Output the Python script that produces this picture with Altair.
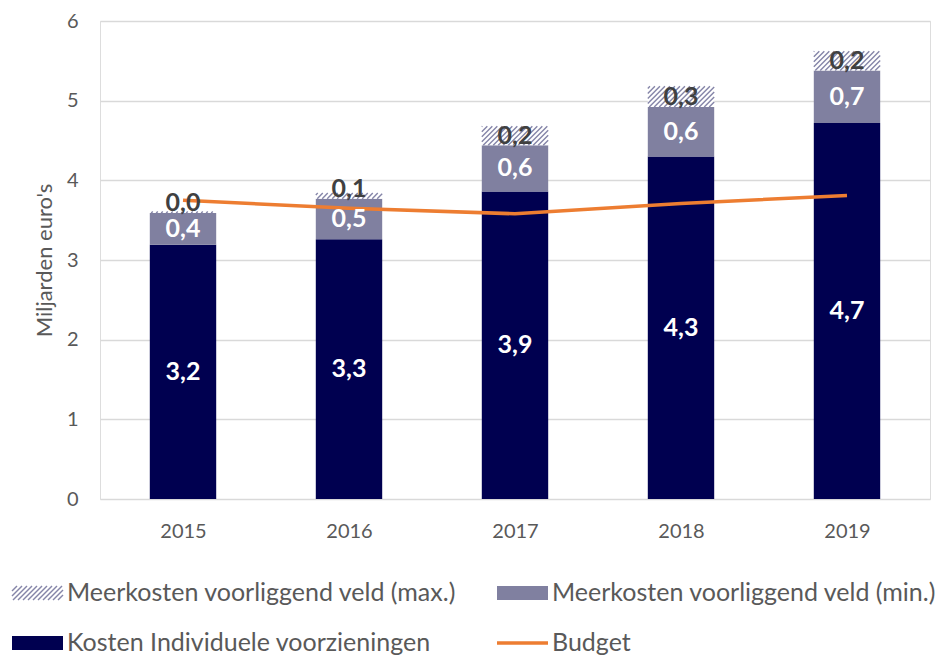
import altair as alt
import pandas as pd

# ---- data ----
years = [2015, 2016, 2017, 2018, 2019]
kosten = [3.19, 3.26, 3.86, 4.30, 4.72]      # Kosten Individuele voorzieningen
meer_min = [0.40, 0.51, 0.58, 0.62, 0.66]    # Meerkosten voorliggend veld (min.)
meer_max = [0.02, 0.07, 0.24, 0.26, 0.24]    # Meerkosten voorliggend veld (max.)
budget = [3.75, 3.65, 3.58, 3.71, 3.81]      # Budget

S_K = "Kosten Individuele voorzieningen"
S_MIN = "Meerkosten voorliggend veld (min.)"
S_MAX = "Meerkosten voorliggend veld (max.)"
S_B = "Budget"

NAVY = "#000050"
GREY = "#8080A0"
HATCH = "#8585A8"
ORANGE = "#ED7D31"
FONT = "Lato"

W, H = 830, 478
YMAX = 6
HALF = 0.2  # half bar width in years
KX = W / 5.0
KY = H / YMAX


def fmt(v):
    return f"{v:.1f}".replace(".", ",")


rows = []
for i, yr in enumerate(years):
    lo = 0.0
    for s, v in ((S_K, kosten[i]), (S_MIN, meer_min[i]), (S_MAX, meer_max[i])):
        hi = lo + v
        mid = (lo + hi) / 2
        ly = mid if s != S_MAX else max(mid, lo + 0.12)
        rows.append(dict(year=yr, series=s, lo=lo, hi=hi, label=fmt(v), ly=ly,
                         x0=yr - HALF, x1=yr + HALF))
        lo = hi
seg = pd.DataFrame(rows)

# hatch stripes inside the "max" segments, computed from the segments
hrows = []
SP = 5.0
for _, r in seg[seg.series == S_MAX].iterrows():
    wpx = (r.x1 - r.x0) * KX
    hpx = (r.hi - r.lo) * KY
    d = -wpx
    while d < hpx:
        xs = max(0.0, -d)
        xe = min(wpx, hpx - d)
        if xe > xs:
            hrows.append(dict(xa=r.x0 + xs / KX, ya=r.lo + (xs + d) / KY,
                              xb=r.x0 + xe / KX, yb=r.lo + (xe + d) / KY))
        d += SP
hatch = pd.DataFrame(hrows)

bud = pd.DataFrame({"year": years, "budget": budget})

xs_ = alt.Scale(domain=[2014.5, 2019.5], nice=False, zero=False)
ys_ = alt.Scale(domain=[0, YMAX], nice=False)

xaxis = alt.Axis(values=years, format="d", grid=False, domain=False, ticks=False,
                 labelFontSize=20, labelColor="#595959", labelPadding=22,
                 labelFont=FONT, title=None)
yaxis = alt.Axis(values=[0, 1, 2, 3, 4, 5, 6], format="d", domain=False, ticks=False,
                 labelFontSize=20, labelColor="#595959", labelPadding=22,
                 labelFont=FONT, title="Miljarden euro's", titleFontSize=22,
                 titleColor="#595959", titleFont=FONT, titleFontWeight="normal",
                 titlePadding=10, gridColor="#D9D9D9", gridWidth=1.3)

solid = alt.Chart(seg).transform_filter(alt.datum.series != S_MAX).mark_rect().encode(
    x=alt.X("x0:Q", scale=xs_, axis=xaxis),
    x2="x1:Q",
    y=alt.Y("lo:Q", scale=ys_, axis=yaxis),
    y2="hi:Q",
    fill=alt.Fill("series:N", scale=alt.Scale(domain=[S_K, S_MIN], range=[NAVY, GREY]),
                  legend=None),
)

maxbg = alt.Chart(seg).transform_filter(alt.datum.series == S_MAX).mark_rect(
    fill="white").encode(x="x0:Q", x2="x1:Q", y="lo:Q", y2="hi:Q")

stripes = alt.Chart(hatch).mark_rule(color=HATCH, strokeWidth=1.4).encode(
    x="xa:Q", y="ya:Q", x2="xb:Q", y2="yb:Q")

line = alt.Chart(bud).mark_line(color=ORANGE, strokeWidth=3.5).encode(
    x="year:Q", y="budget:Q")

labels_in = alt.Chart(seg).transform_filter(alt.datum.series != S_MAX).mark_text(
    font=FONT, fontSize=25, fontWeight="bold", color="white", baseline="middle"
).encode(x="year:Q", y="ly:Q", text="label:N")

labels_top = alt.Chart(seg).transform_filter(alt.datum.series == S_MAX).mark_text(
    font=FONT, fontSize=25, fontWeight="bold", color="#404040", baseline="middle"
).encode(x="year:Q", y="ly:Q", text="label:N")

# ---- manual legend (2 x 2 grid below the plot) ----
leg = pd.DataFrame({
    "name": [S_MAX, S_MIN, S_K, S_B],
    "col": [0, 1, 0, 1],
    "row": [0, 0, 1, 1],
})
leg["sx0"] = -88 + leg["col"] * 485
leg["sx1"] = leg["sx0"] + 51
leg["cy"] = 572 + leg["row"] * 50
leg["sy0"] = leg["cy"] - 7
leg["sy1"] = leg["cy"] + 7
leg["tx"] = leg["sx1"] + 4

lrows = []
for _, r in leg[leg.name == S_MAX].iterrows():
    wpx, hpx = r.sx1 - r.sx0, r.sy1 - r.sy0
    d = -wpx
    while d < hpx:
        a = max(0.0, -d)
        b = min(wpx, hpx - d)
        if b > a:
            lrows.append(dict(pa=r.sx0 + a, qa=r.sy1 - (a + d), pb=r.sx0 + b, qb=r.sy1 - (b + d)))
        d += SP
lhatch = pd.DataFrame(lrows)

leg_rect = alt.Chart(leg).transform_filter(
    (alt.datum.name == S_MIN) | (alt.datum.name == S_K)).mark_rect().encode(
    x=alt.X("sx0:Q", scale=None), x2="sx1:Q",
    y=alt.Y("sy0:Q", scale=None), y2="sy1:Q",
    fill=alt.Fill("name:N", scale=alt.Scale(domain=[S_K, S_MIN], range=[NAVY, GREY]),
                  legend=None),
)
leg_hatch = alt.Chart(lhatch).mark_rule(color=HATCH, strokeWidth=1.4).encode(
    x=alt.X("pa:Q", scale=None), x2="pb:Q",
    y=alt.Y("qa:Q", scale=None), y2="qb:Q")
leg_line = alt.Chart(leg).transform_filter(alt.datum.name == S_B).mark_rule(
    color=ORANGE, strokeWidth=3.5).encode(
    x=alt.X("sx0:Q", scale=None), x2="sx1:Q", y=alt.Y("cy:Q", scale=None))
leg_text = alt.Chart(leg).mark_text(
    font=FONT, fontSize=25, color="#595959", align="left", baseline="middle").encode(
    x=alt.X("tx:Q", scale=None), y=alt.Y("cy:Q", scale=None), text="name:N")

chart = alt.layer(
    solid, maxbg, stripes, line, labels_in, labels_top,
    leg_rect, leg_hatch, leg_line, leg_text,
).resolve_scale(fill="independent").properties(
    width=W, height=H,
    autosize=alt.AutoSizeParams(type="none"),
    padding={"left": 92, "top": 13, "right": 12, "bottom": 160},
).configure_view(stroke=None).configure(background="white")

chart.save("out.html", embed_options={"renderer": "svg", "actions": False})
